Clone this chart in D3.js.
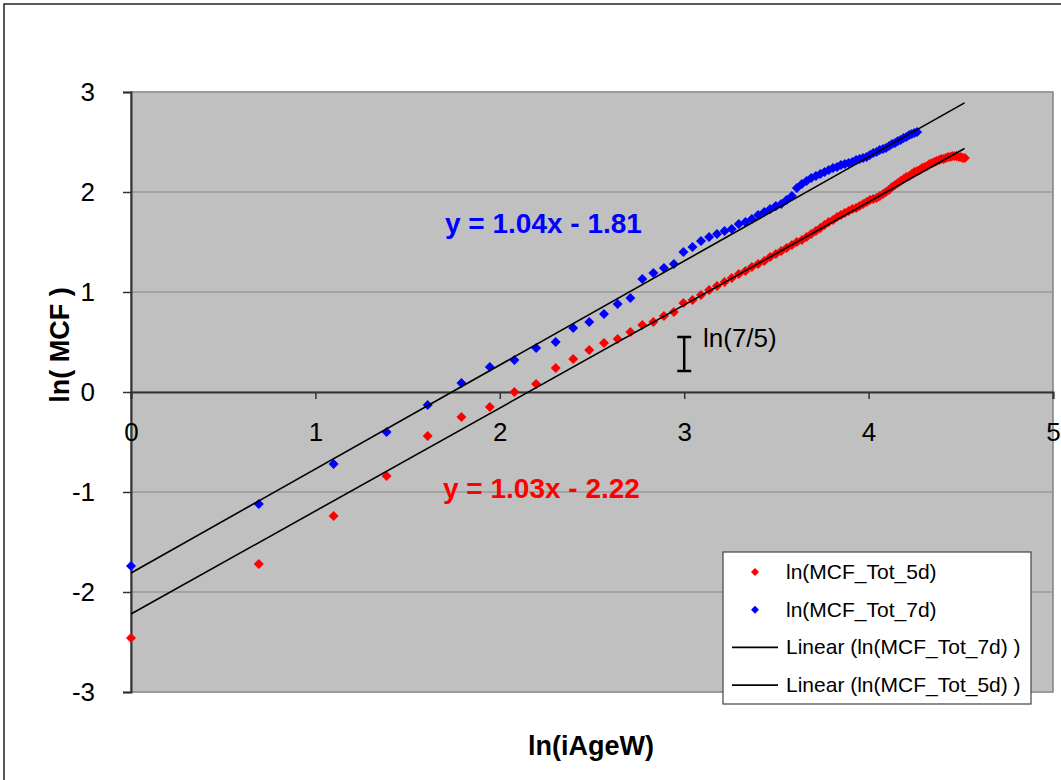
<!DOCTYPE html>
<html>
<head>
<meta charset="utf-8">
<script src="https://cdn.jsdelivr.net/npm/d3@7"></script>
<style>
  body { margin: 0; background: #fff; }
  text { font-family: "Liberation Sans", Arial, sans-serif; }
</style>
</head>
<body>
<div id="chart"></div>
<script>
const lnAge = [0, 0.693, 1.099, 1.386, 1.609, 1.792, 1.946, 2.079, 2.197, 2.303,
  2.398, 2.485, 2.565, 2.639, 2.708, 2.773, 2.833, 2.890, 2.944, 2.996,
  3.045, 3.091, 3.135, 3.178, 3.219, 3.258, 3.296, 3.332, 3.367, 3.401,
  3.434, 3.466, 3.497, 3.526, 3.555, 3.584, 3.611, 3.638, 3.664, 3.689,
  3.714, 3.738, 3.761, 3.784, 3.807, 3.829, 3.850, 3.871, 3.892, 3.912,
  3.932, 3.951, 3.970, 3.989, 4.007, 4.025, 4.043, 4.060, 4.078, 4.094,
  4.111, 4.127, 4.143, 4.159, 4.174, 4.190, 4.205, 4.220, 4.234, 4.248,
  4.263, 4.277, 4.290, 4.304, 4.317, 4.331, 4.344, 4.357, 4.369, 4.382,
  4.394, 4.407, 4.419, 4.431, 4.443, 4.454, 4.466, 4.477, 4.489, 4.500,
  4.511, 4.522];

// ln(MCF_Tot_5d)
const mcf5d = [-2.46, -1.72, -1.24, -0.84, -0.44, -0.25, -0.15, 0.00, 0.08, 0.24,
  0.33, 0.42, 0.49, 0.53, 0.60, 0.67, 0.70, 0.76, 0.80, 0.89,
  0.92, 0.97, 1.02, 1.06, 1.10, 1.14, 1.18, 1.21, 1.25, 1.28,
  1.31, 1.35, 1.38, 1.41, 1.44, 1.47, 1.50, 1.52, 1.55, 1.58,
  1.61, 1.64, 1.67, 1.70, 1.72, 1.75, 1.77, 1.79, 1.81, 1.83,
  1.84, 1.86, 1.88, 1.90, 1.92, 1.93, 1.94, 1.96, 1.98, 2.00,
  2.02, 2.05, 2.07, 2.09, 2.11, 2.13, 2.15, 2.16, 2.18, 2.20,
  2.21, 2.22, 2.24, 2.25, 2.26, 2.28, 2.29, 2.30, 2.31, 2.32,
  2.33, 2.33, 2.34, 2.35, 2.35, 2.36, 2.36, 2.36, 2.35, 2.35,
  2.34, 2.34];

// ln(MCF_Tot_7d)
const mcf7d = [-1.74, -1.12, -0.72, -0.40, -0.13, 0.09, 0.25, 0.32, 0.44, 0.50,
  0.64, 0.70, 0.78, 0.88, 0.94, 1.13, 1.19, 1.24, 1.28, 1.40,
  1.45, 1.51, 1.55, 1.58, 1.61, 1.63, 1.68, 1.70, 1.73, 1.77,
  1.80, 1.83, 1.86, 1.88, 1.92, 1.96, 2.04, 2.08, 2.11, 2.14,
  2.16, 2.18, 2.20, 2.22, 2.24, 2.25, 2.27, 2.28, 2.29, 2.30,
  2.32, 2.33, 2.34, 2.35, 2.37, 2.39, 2.40, 2.42, 2.43, 2.44,
  2.46, 2.48, 2.49, 2.51, 2.52, 2.54, 2.55, 2.57, 2.58, 2.59,
  2.60];

// trend lines: [slope, intercept, xEnd]
const fit7d = [1.04, -1.81, 4.52];
const fit5d = [1.03, -2.22, 4.52];

const xTicks = [0, 1, 2, 3, 4, 5];
const yTicks = [-3, -2, -1, 0, 1, 2, 3];

// ln(7/5) bracket at x = 3
const bracket = { x: 3, lo: 0.21, hi: 0.55 };

const W = 1061, H = 780;
const svg = d3.select('#chart').append('svg')
  .attr('width', W).attr('height', H);

// outer chart border
svg.append('rect')
  .attr('x', 4).attr('y', 4).attr('width', W + 10).attr('height', H + 10)
  .attr('fill', '#fff').attr('stroke', '#222').attr('stroke-width', 1.5);

const x = d3.scaleLinear().domain([0, 5]).range([131, 1053]);
const y = d3.scaleLinear().domain([-3, 3]).range([692, 92]);

// plot area
svg.append('rect')
  .attr('x', x(0)).attr('y', y(3))
  .attr('width', x(5) - x(0)).attr('height', y(-3) - y(3))
  .attr('fill', '#c0c0c0').attr('stroke', '#808080').attr('stroke-width', 1.5);

svg.append('g').selectAll('line')
  .data(yTicks)
  .enter().append('line')
  .attr('x1', x(0)).attr('x2', x(5))
  .attr('y1', d => y(d)).attr('y2', d => y(d))
  .attr('stroke', '#9a9a9a').attr('stroke-width', 1.5);

// y axis
const yAxis = svg.append('g')
  .attr('transform', `translate(${x(0)},0)`)
  .call(d3.axisLeft(y).tickValues(yTicks).tickSize(8).tickFormat(d3.format('d')));
yAxis.select('.domain').attr('stroke', '#333').attr('stroke-width', 2);
yAxis.selectAll('.tick line').attr('stroke', '#333').attr('stroke-width', 1.5);
yAxis.selectAll('.tick text')
  .attr('x', -36).attr('font-size', 26).attr('fill', '#000')
  .attr('font-family', '"Liberation Sans", Arial, sans-serif')
  .text(d => d < 0 ? '-' + Math.abs(d) : d);

// x axis sits on y = 0
const xAxis = svg.append('g')
  .attr('transform', `translate(0,${y(0)})`)
  .call(d3.axisBottom(x).tickValues(xTicks).tickSize(7).tickFormat(d3.format('d')));
xAxis.select('.domain').attr('stroke', '#333').attr('stroke-width', 2);
xAxis.selectAll('.tick line').attr('stroke', '#333').attr('stroke-width', 1.5);
xAxis.selectAll('.tick text')
  .attr('y', 31).attr('font-size', 26).attr('fill', '#000')
  .attr('font-family', '"Liberation Sans", Arial, sans-serif');

// markers
const diamond = d3.symbol(d3.symbolSquare, 50);
function drawSeries(vals, color) {
  svg.append('g').selectAll('path')
    .data(vals)
    .enter().append('path')
    .attr('d', diamond)
    .attr('transform', (d, i) => `translate(${x(lnAge[i])},${y(d)}) rotate(45)`)
    .attr('fill', color);
}
drawSeries(mcf5d, '#ff0000');
drawSeries(mcf7d, '#0000ff');

// trend lines
[fit7d, fit5d].forEach(f => {
  svg.append('line')
    .attr('x1', x(0)).attr('y1', y(f[1]))
    .attr('x2', x(f[2])).attr('y2', y(f[0] * f[2] + f[1]))
    .attr('stroke', '#000').attr('stroke-width', 1.6);
});

// equations
svg.append('text')
  .attr('x', 445).attr('y', 233)
  .attr('font-size', 28).attr('font-weight', 'bold').attr('fill', '#0000ff')
  .attr('xml:space', 'preserve')
  .text('y = 1.04x - 1.81');
svg.append('text')
  .attr('x', 443).attr('y', 498)
  .attr('font-size', 28).attr('font-weight', 'bold').attr('fill', '#ff0000')
  .attr('xml:space', 'preserve')
  .text('y = 1.03x - 2.22');

// ln(7/5) bracket
const bk = svg.append('g').attr('stroke', '#000').attr('stroke-width', 2.5);
bk.append('line').attr('x1', x(bracket.x)).attr('x2', x(bracket.x))
  .attr('y1', y(bracket.hi)).attr('y2', y(bracket.lo));
[bracket.hi, bracket.lo].forEach(v => {
  bk.append('line').attr('x1', x(bracket.x) - 7).attr('x2', x(bracket.x) + 7)
    .attr('y1', y(v)).attr('y2', y(v));
});
svg.append('text')
  .attr('x', 703).attr('y', 347)
  .attr('font-size', 26).attr('fill', '#000')
  .text('ln(7/5)');

// axis titles
svg.append('text')
  .attr('transform', 'translate(69,345) rotate(-90)')
  .attr('text-anchor', 'middle')
  .attr('font-size', 27).attr('font-weight', 'bold')
  .attr('xml:space', 'preserve')
  .text('ln( MCF )');
svg.append('text')
  .attr('x', 591).attr('y', 755)
  .attr('text-anchor', 'middle')
  .attr('font-size', 27).attr('font-weight', 'bold')
  .text('ln(iAgeW)');

// legend
const legendItems = [
  { label: 'ln(MCF_Tot_5d)', type: 'marker', color: '#ff0000' },
  { label: 'ln(MCF_Tot_7d)', type: 'marker', color: '#0000ff' },
  { label: 'Linear (ln(MCF_Tot_7d) )', type: 'line', color: '#000' },
  { label: 'Linear (ln(MCF_Tot_5d) )', type: 'line', color: '#000' }
];
const lg = svg.append('g');
lg.append('rect')
  .attr('x', 723).attr('y', 552).attr('width', 308).attr('height', 152)
  .attr('fill', '#fff').attr('stroke', '#444').attr('stroke-width', 1.2);
legendItems.forEach((it, i) => {
  const cy = 572 + i * 37.7;
  if (it.type === 'marker') {
    lg.append('path')
      .attr('d', d3.symbol(d3.symbolSquare, 32))
      .attr('transform', `translate(755,${cy}) rotate(45)`)
      .attr('fill', it.color);
  } else {
    lg.append('line')
      .attr('x1', 732).attr('x2', 778).attr('y1', cy).attr('y2', cy)
      .attr('stroke', it.color).attr('stroke-width', 1.6);
  }
  lg.append('text')
    .attr('x', 786).attr('y', cy + 7)
    .attr('font-size', 21).attr('fill', '#000')
    .text(it.label);
});
</script>
</body>
</html>
